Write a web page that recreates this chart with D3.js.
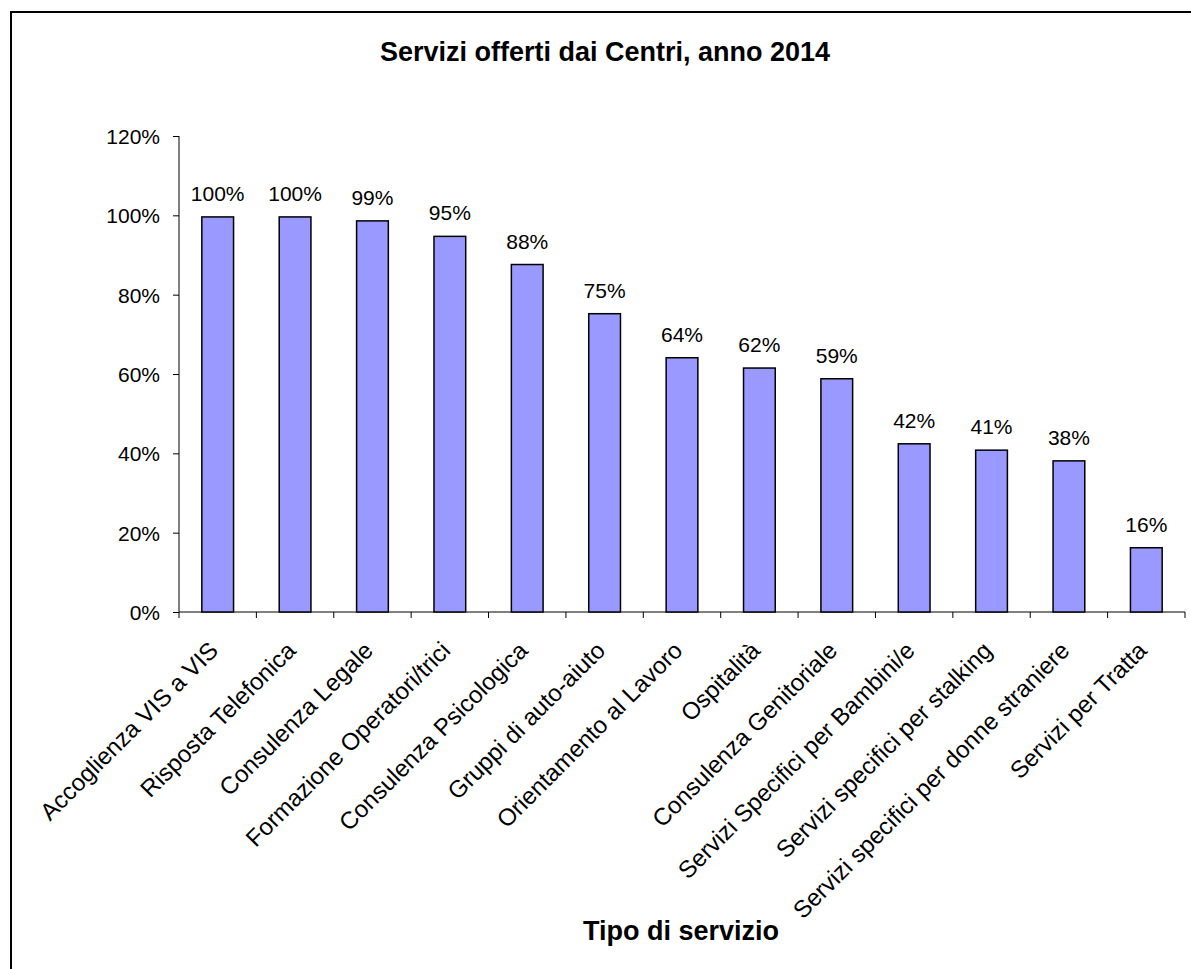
<!DOCTYPE html>
<html>
<head>
<meta charset="utf-8">
<script src="https://cdn.jsdelivr.net/npm/d3@7"></script>
<style>
	body { margin: 0; background: #fff; }
	svg text { font-family: "Liberation Sans", Arial, sans-serif; fill: #000; }
</style>
</head>
<body>
<div id="chart"></div>
<script>
/* global d3 */

var categories = [
	"Accoglienza VIS a VIS",
	"Risposta Telefonica",
	"Consulenza Legale",
	"Formazione Operatori/trici",
	"Consulenza Psicologica",
	"Gruppi di auto-aiuto",
	"Orientamento al Lavoro",
	"Ospitalità",
	"Consulenza Genitoriale",
	"Servizi Specifici per Bambini/e",
	"Servizi specifici per stalking",
	"Servizi specifici per donne straniere",
	"Servizi per Tratta"
];
var values = [0.996, 0.996, 0.986, 0.947, 0.876, 0.752, 0.641, 0.615, 0.588, 0.424, 0.408, 0.381, 0.162];
var yTicks = [0, 0.2, 0.4, 0.6, 0.8, 1.0, 1.2];
var titleText = "Servizi offerti dai Centri, anno 2014";
var xTitleText = "Tipo di servizio";

(function() {
	'use strict';

	var W = 1191, H = 969,
		margin = { top: 136, right: 6, bottom: 357, left: 179 },
		width = W - margin.left - margin.right,
		height = H - margin.top - margin.bottom,
		pct = d3.format(".0%"),
		data = categories.map(function(c, i) { return { name: c, value: values[i] }; });

	var svg = d3.select("#chart").append("svg")
		.attr("width", W)
		.attr("height", H);

	// outer frame (runs off the right/bottom edge like the original)
	svg.append("rect")
		.attr("x", 11)
		.attr("y", 12)
		.attr("width", W + 10)
		.attr("height", H + 10)
		.attr("fill", "none")
		.attr("stroke", "#000")
		.attr("stroke-width", 2);

	svg.append("text")
		.attr("x", 605)
		.attr("y", 61)
		.attr("text-anchor", "middle")
		.style("font-size", "27px")
		.style("font-weight", "bold")
		.text(titleText);

	var g = svg.append("g")
		.attr("transform", "translate(" + margin.left + "," + margin.top + ")");

	var x = d3.scaleBand()
		.domain(categories)
		.range([0, width])
		.paddingInner(0.59)
		.paddingOuter(0.295);

	var y = d3.scaleLinear()
		.domain([0, 1.2])
		.range([height, 0]);

	// y axis
	g.append("g")
		.call(d3.axisLeft(y)
			.tickValues(yTicks)
			.tickFormat(pct)
			.tickSize(6)
			.tickPadding(13))
		.call(function(a) {
			a.select(".domain").attr("d", "M0," + height + "V0").attr("stroke", "#000");
			a.selectAll(".tick line").attr("stroke", "#000");
			a.selectAll("text")
				.attr("dy", "0.36em")
				.style("font-size", "21px")
				.style("font-family", "'Liberation Sans', Arial, sans-serif");
		});

	// x axis: ticks sit on category boundaries
	var step = width / categories.length,
		bounds = d3.range(categories.length + 1);
	var xa = g.append("g").attr("transform", "translate(0," + height + ")");
	xa.append("line")
		.attr("x1", 0).attr("x2", width)
		.attr("stroke", "#000");
	xa.selectAll("line.tk")
		.data(bounds)
		.join("line")
		.attr("class", "tk")
		.attr("x1", function(d) { return d * step; })
		.attr("x2", function(d) { return d * step; })
		.attr("y1", 0).attr("y2", 6)
		.attr("stroke", "#000");

	xa.selectAll("text")
		.data(categories)
		.join("text")
		.attr("transform", function(d) {
			return "translate(" + (x(d) + x.bandwidth() / 2 + 2) + ",40) rotate(-45)";
		})
		.attr("text-anchor", "end")
		.style("font-size", "24px")
		.text(function(d) { return d; });

	// bars
	g.selectAll("rect.bar")
		.data(data)
		.join("rect")
		.attr("class", "bar")
		.attr("x", function(d) { return x(d.name); })
		.attr("y", function(d) { return y(d.value); })
		.attr("width", x.bandwidth())
		.attr("height", function(d) { return height - y(d.value); })
		.attr("fill", "#9999ff")
		.attr("stroke", "#000")
		.attr("stroke-width", 1.5);

	g.selectAll("text.lbl")
		.data(data)
		.join("text")
		.attr("class", "lbl")
		.attr("x", function(d) { return x(d.name) + x.bandwidth() / 2; })
		.attr("y", function(d) { return y(d.value) - 16; })
		.attr("text-anchor", "middle")
		.style("font-size", "21px")
		.text(function(d) { return pct(d.value); });

	svg.append("text")
		.attr("x", 681)
		.attr("y", 940)
		.attr("text-anchor", "middle")
		.style("font-size", "27px")
		.style("font-weight", "bold")
		.text(xTitleText);
})();
</script>
</body>
</html>
